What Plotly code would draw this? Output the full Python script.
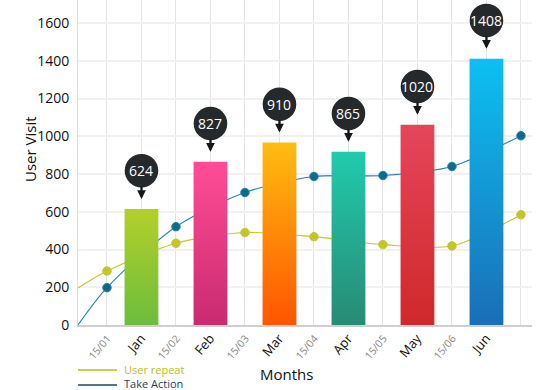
import plotly.graph_objects as go

# ---------------- data ----------------
tick_labels = ["15/01", "Jan", "15/02", "Feb", "15/03", "Mar", "15/04", "Apr",
               "15/05", "May", "15/06", "Jun", ""]
months = ["Jan", "Feb", "Mar", "Apr", "May", "Jun"]
bar_values = [615, 865, 967, 918, 1061, 1411]
callout_values = [624, 827, 910, 865, 1020, 1408]
bar_top_colors = ["#b3d02a", "#ff4d96", "#ffbd10", "#20cbad", "#e5465a", "#0cc0f2"]
bar_bottom_colors = ["#6cbd3d", "#c92a70", "#ff5500", "#288a74", "#d0282a", "#1a6eb6"]

series_names = ["User repeat", "Take Action"]
line_points = ["start", "15/01", "15/02", "15/03", "15/04", "15/05", "15/06", ""]
user_repeat = [196, 286, 433, 490, 468, 426, 419, 584]
take_action = [0, 198, 521, 702, 787, 792, 840, 1003]

y_ticks = [0, 200, 400, 600, 800, 1000, 1200, 1400, 1600]

# ---------------- layout helpers ----------------
W, H = 555, 390
ML, MR, MT, MB = 78, 23, 0, 65
PW, PH = W - ML - MR, H - MT - MB
X_MIN, X_MAX = -0.84, 12.32
Y_MAX = 1722
BAR_HALF = 0.49
FONT = "Open Sans"
LINE_COLORS = ["#c3c92c", "#2384ad"]
MARKER_COLORS = ["#c3c52a", "#0f6a8c"]
LEGEND_LINE_COLORS = ["#b4bf22", "#16495f"]
LEGEND_TEXT_COLORS = ["#b4c020", "#1b4255"]


def pos(label):
    if label == "start":
        return X_MIN
    if label == "":
        return len(tick_labels) - 1
    return tick_labels.index(label)


def px_x(p):
    return (p - ML) / PW


def px_y(p):
    return (H - MB - p) / PH


line_x = [pos(p) for p in line_points]
marker_sizes = [0] + [8.5] * (len(line_points) - 1)

fig = go.Figure()

for name, vals, lc, mc in zip(series_names, [user_repeat, take_action], LINE_COLORS, MARKER_COLORS):
    fig.add_trace(go.Scatter(
        x=line_x, y=vals, mode="lines+markers", name=name, showlegend=False,
        line=dict(color=lc, width=1.1, shape="spline", smoothing=0.8),
        marker=dict(size=marker_sizes, color=mc, opacity=1), hoverinfo="skip"))

# gradient bars
for m, v, ct, cb in zip(months, bar_values, bar_top_colors, bar_bottom_colors):
    cx = pos(m)
    fig.add_trace(go.Scatter(
        x=[cx - BAR_HALF, cx + BAR_HALF, cx + BAR_HALF, cx - BAR_HALF, cx - BAR_HALF],
        y=[0, 0, v, v, 0], mode="lines", fill="toself", line=dict(width=0),
        fillgradient=dict(type="vertical", colorscale=[[0, cb], [1, ct]], start=0, stop=v),
        showlegend=False, hoverinfo="skip"))

shapes = []
annotations = []
for m, v, lab in zip(months, bar_values, callout_values):
    cx = pos(m)
    shapes.append(dict(type="circle", xref="x", yref="y", xsizemode="pixel", ysizemode="pixel",
                       xanchor=cx, yanchor=v, x0=-16.8, x1=16.8, y0=21.5, y1=55,
                       fillcolor="#25292c", line=dict(width=0), layer="above"))
    annotations.append(dict(x=cx, y=v, xref="x", yref="y", text="", showarrow=True,
                            ax=0, ay=-24, axref="pixel", ayref="pixel", arrowhead=2, arrowsize=0.76,
                            arrowwidth=2.3, arrowcolor="#151718", standoff=10))
    annotations.append(dict(x=cx, y=v, xref="x", yref="y", text=str(lab), showarrow=False,
                            yshift=38, font=dict(family=FONT, size=14, color="white")))

# axis titles
annotations.append(dict(x=px_x(286.7), y=px_y(374), xref="paper", yref="paper",
                        text="Months", showarrow=False, xanchor="center", yanchor="middle",
                        font=dict(family=FONT, size=15, color="#111")))
annotations.append(dict(x=px_x(30), y=px_y(149), xref="paper", yref="paper",
                        text="User Visit", showarrow=False, textangle=-90,
                        xanchor="center", yanchor="middle",
                        font=dict(family=FONT, size=15, color="#111")))

# manual legend
for i, (name, lc, tc) in enumerate(zip(series_names, LEGEND_LINE_COLORS, LEGEND_TEXT_COLORS)):
    ly = 369 + 15 * i
    shapes.append(dict(type="line", xref="paper", yref="paper", x0=px_x(78), x1=px_x(117),
                       y0=px_y(ly + 1), y1=px_y(ly + 1), line=dict(color=lc, width=1.3)))
    annotations.append(dict(x=px_x(122), y=px_y(ly), xref="paper", yref="paper", text=name,
                            showarrow=False, xanchor="left", yanchor="middle",
                            font=dict(family=FONT, size=11, color=tc)))

tick_text = []
for t in tick_labels:
    if t in months:
        tick_text.append(f"<span style='font-size:13px;color:#111'>{t}</span>")
    elif t:
        tick_text.append(f"<span style='font-size:10.5px;color:#8a8a8a'>{t}</span>")
    else:
        tick_text.append("")

fig.update_layout(
    width=W, height=H,
    margin=dict(l=ML, r=MR, t=MT, b=MB, autoexpand=False),
    paper_bgcolor="white", plot_bgcolor="white",
    font=dict(family=FONT, color="#111"),
    shapes=shapes, annotations=annotations,
    showlegend=False,
    xaxis=dict(range=[X_MIN, X_MAX], tickmode="array", tickvals=list(range(len(tick_labels))),
               ticktext=tick_text, tickangle=-50, showgrid=True, gridcolor="#e4e4e4", gridwidth=1,
               showline=True, linecolor="#cfcfcf", linewidth=1.5, zeroline=False, ticks="",
               automargin=False, fixedrange=True),
    yaxis=dict(range=[0, Y_MAX], tickmode="array", tickvals=y_ticks,
               showgrid=True, gridcolor="#f1f1f1", gridwidth=1.5, zeroline=False,
               showline=True, linecolor="#dedede", linewidth=1, ticks="outside", ticklen=5,
               tickcolor="rgba(0,0,0,0)", tickfont=dict(family=FONT, size=14, color="#111"),
               automargin=False, fixedrange=True),
)

fig.write_html("out.html", post_script="document.body.style.margin='0';",
               config={"displayModeBar": False})
